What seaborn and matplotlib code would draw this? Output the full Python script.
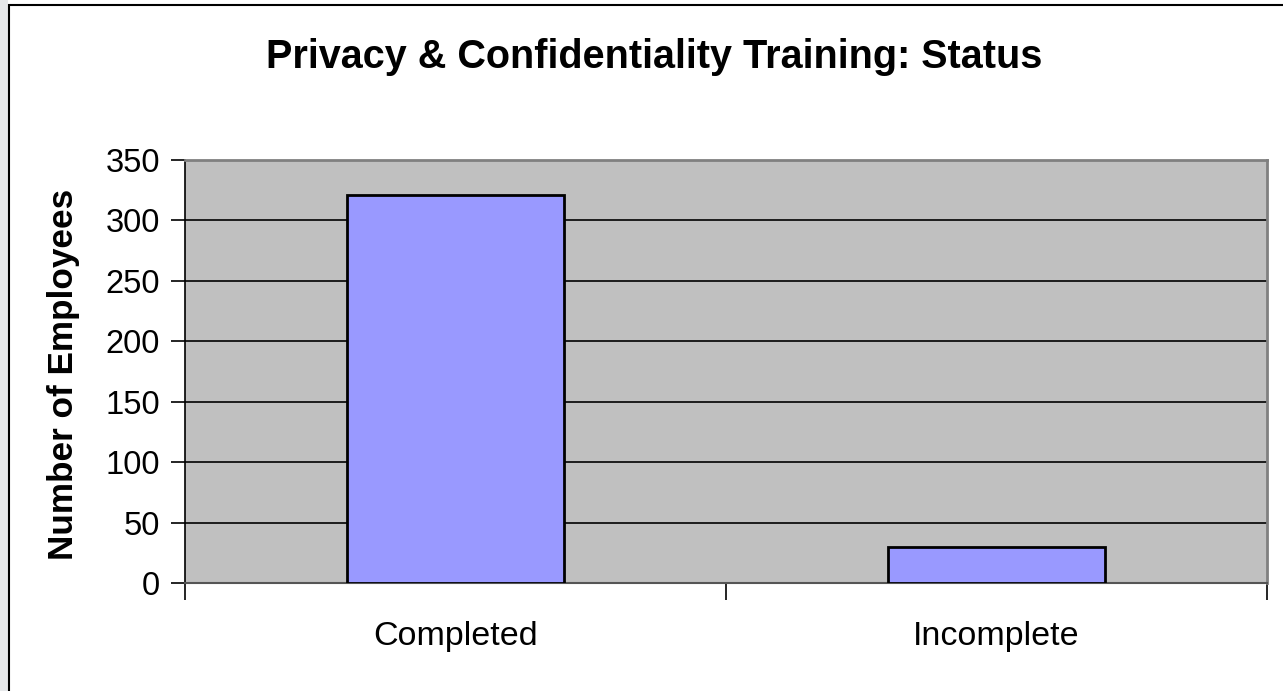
import matplotlib
matplotlib.use("Agg")
import matplotlib.pyplot as plt
import seaborn as sns
import pandas as pd
from matplotlib.patches import Rectangle
from matplotlib.ticker import FixedLocator, MultipleLocator

categories = ["Completed", "Incomplete"]
employees = [321, 30]
title = "Privacy & Confidentiality Training: Status"
ylabel = "Number of Employees"

sns.set_style("white")
plt.rcParams['font.family'] = ['Liberation Sans', 'DejaVu Sans']
plt.rcParams['text.color'] = 'black'
plt.rcParams['xtick.color'] = 'black'
plt.rcParams['ytick.color'] = 'black'
plt.rcParams['axes.labelcolor'] = 'black'

W, H = 1283, 691
fig = plt.figure(figsize=(W / 100, H / 100), dpi=100)
fig.patch.set_facecolor("white")

# slide background strip and chart frame
fig.patches.append(Rectangle((0, 0), 8 / W, 1, transform=fig.transFigure,
                             facecolor="#e6e8ea", edgecolor="none", zorder=0))
fig.patches.append(Rectangle((8.5 / W, -0.05), 1.2, 1 - 5.5 / H + 0.05, transform=fig.transFigure,
                             facecolor="none", edgecolor="black", linewidth=1.5, zorder=1))

ax = fig.add_axes([185 / W, 1 - 583 / H, (1267 - 185) / W, (583 - 160) / H])
df = pd.DataFrame({"status": categories, "count": employees})
sns.barplot(data=df, x="status", y="count", ax=ax, color="#9999FF", saturation=1,
            width=0.4, edgecolor="black", linewidth=2, zorder=3)

ax.set_facecolor("#C0C0C0")
ax.set_xlim(-0.5, 1.5)
ax.set_ylim(0, 350)
ax.yaxis.set_major_locator(MultipleLocator(50))
ax.grid(axis="y", color="black", linewidth=1.2, zorder=1)
ax.set_axisbelow(True)
ax.set_xlabel("")
ax.set_ylabel("")

for side in ["top", "right"]:
    ax.spines[side].set_color("#808080")
    ax.spines[side].set_linewidth(2)
ax.spines["left"].set_color("black")
ax.spines["left"].set_linewidth(1.2)
ax.spines["bottom"].set_color("#555555")
ax.spines["bottom"].set_linewidth(1.5)

ax.tick_params(axis="y", which="major", direction="out", length=10, width=1.2,
               color="black", labelsize=23.5, pad=8, left=True)
ax.xaxis.set_minor_locator(FixedLocator([-0.5, 0.5, 1.5]))
ax.tick_params(axis="x", which="major", length=0, labelsize=24.5, pad=27)
ax.tick_params(axis="x", which="minor", direction="out", length=12, width=1.2,
               color="black", bottom=True)

fig.text(654 / W, 1 - 57 / H, title, ha="center", va="center",
         fontsize=28.5, fontweight="bold")
fig.text(64 / W, 1 - 374 / H, ylabel, ha="center", va="center",
         rotation=90, fontsize=25.3, fontweight="bold")

fig.savefig("out.png", dpi=100)
